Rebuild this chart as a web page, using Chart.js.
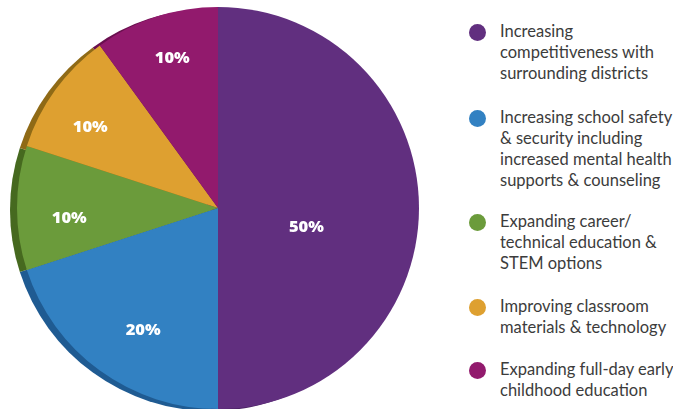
<!DOCTYPE html>
<html>
<head>
<meta charset="utf-8">
<script src="https://cdn.jsdelivr.net/npm/chart.js@4.4.0/dist/chart.umd.min.js"></script>
<style>
  body { margin: 0; background: #fff; width: 673px; height: 409px; overflow: hidden; position: relative; }
  #wrap { position: absolute; left: 0; top: 0; width: 440px; height: 409px; }
  #legend { position: absolute; left: 469px; top: 0; width: 210px; font-family: Lato, sans-serif; font-size: 16.5px; color: #3c3c3c; }
  .item { position: absolute; left: 0; }
  .dot { position: absolute; left: 0; top: 3px; width: 17px; height: 17px; border-radius: 50%; }
  .txt { position: absolute; left: 31px; line-height: 21px; white-space: nowrap; letter-spacing: 0px; }
</style>
</head>
<body>
<div id="wrap"><canvas id="pie_chart" width="440" height="409"></canvas></div>
<div id="legend"></div>
<script>
var shares = [50, 20, 10, 10, 10];
var names = [
  ["Increasing", "competitiveness with", "surrounding districts"],
  ["Increasing school safety", "& security including", "increased mental health", "supports & counseling"],
  ["Expanding career/", "technical education &", "STEM options"],
  ["Improving classroom", "materials & technology"],
  ["Expanding full-day early", "childhood education"]
];
var color = ["#612f7f", "#3281c2", "#6b9b3b", "#dea030", "#921a6d"];
var rimColor = ["#4a2163", "#1f5b92", "#46691f", "#8f6a16", "#6a0f4f"];
var legendTop = [21, 107, 211, 296, 359];
// label placement: fraction of radius along slice middle, then a small nudge
var labelFrac = [0.44, 0.71, 0.74, 0.755, 0.785];
var labelNudge = [[0, 18], [9, 6], [0, 9], [-5, 7], [3, -1]];

// darker rim drawn behind the pie, shifted left
var rimPlugin = {
  id: 'rim',
  beforeDatasetsDraw: function(chart) {
    var ctx = chart.ctx;
    var arcs = chart.getDatasetMeta(0).data;
    ctx.save();
    arcs.forEach(function(a, i) {
      var p = a.getProps(['x', 'y', 'startAngle', 'endAngle', 'outerRadius'], true);
      ctx.beginPath();
      ctx.moveTo(p.x - 7, p.y + 2);
      ctx.arc(p.x - 7, p.y + 2, p.outerRadius, p.startAngle, p.endAngle);
      ctx.closePath();
      ctx.fillStyle = rimColor[i];
      ctx.fill();
    });
    ctx.restore();
  }
};

var pctPlugin = {
  id: 'pct',
  afterDatasetsDraw: function(chart) {
    var ctx = chart.ctx;
    var arcs = chart.getDatasetMeta(0).data;
    ctx.save();
    ctx.fillStyle = "#ffffff";
    ctx.font = "800 16.5px 'Open Sans', sans-serif";
    ctx.textAlign = "center";
    ctx.textBaseline = "middle";
    arcs.forEach(function(a, i) {
      var p = a.getProps(['x', 'y', 'startAngle', 'endAngle', 'outerRadius'], true);
      var mid = (p.startAngle + p.endAngle) / 2;
      var r = p.outerRadius * labelFrac[i];
      ctx.fillText(shares[i] + "%", p.x + Math.cos(mid) * r + labelNudge[i][0], p.y + Math.sin(mid) * r + labelNudge[i][1] + 1);
    });
    ctx.restore();
  }
};

function create_Pie() {
  new Chart(document.getElementById("pie_chart"), {
    type: 'pie',
    data: {
      labels: names.map(function(n) { return n.join(" "); }),
      datasets: [{
        data: shares,
        backgroundColor: color,
        borderWidth: 0
      }]
    },
    options: {
      responsive: false,
      animation: false,
      layout: { padding: { left: 17, right: 21, top: 7, bottom: 0 } },
      plugins: {
        legend: { display: false },
        tooltip: { enabled: false }
      }
    },
    plugins: [rimPlugin, pctPlugin]
  });

  var lg = document.getElementById("legend");
  names.forEach(function(lines, i) {
    var it = document.createElement("div");
    it.className = "item";
    it.style.top = legendTop[i] + "px";
    var d = document.createElement("div");
    d.className = "dot";
    d.style.background = color[i];
    var t = document.createElement("div");
    t.className = "txt";
    t.innerHTML = lines.join("<br>");
    it.appendChild(d);
    it.appendChild(t);
    lg.appendChild(it);
  });
}

document.addEventListener('DOMContentLoaded', create_Pie);
</script>
</body>
</html>
